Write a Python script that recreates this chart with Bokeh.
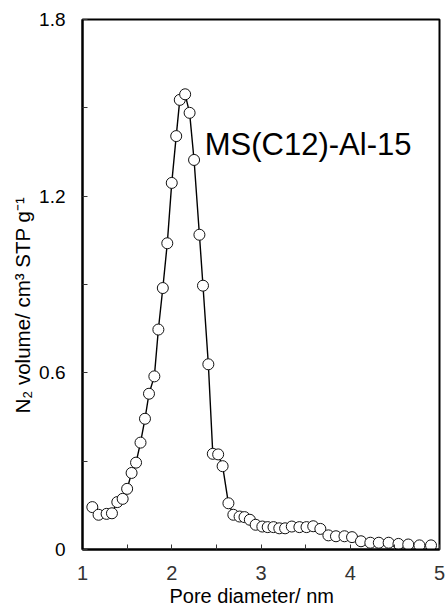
from bokeh.core.properties import value
from bokeh.embed import file_html
from bokeh.models import FixedTicker, Range1d, Title
from bokeh.plotting import figure
from bokeh.resources import INLINE

# Pore size distribution of MS(C12)-Al-15
pore_diameter = [
    1.11, 1.18, 1.27, 1.33, 1.39, 1.45, 1.50, 1.55, 1.60, 1.65,
    1.70, 1.745, 1.805, 1.85, 1.90, 1.95, 2.00, 2.05, 2.09, 2.15,
    2.20, 2.25, 2.31, 2.35, 2.41, 2.46, 2.52, 2.57, 2.635, 2.69,
    2.76, 2.815, 2.875, 2.94, 3.015, 3.075, 3.14, 3.205, 3.27, 3.345,
    3.43, 3.51, 3.585, 3.665, 3.755, 3.84, 3.935, 4.02, 4.12, 4.225,
    4.32, 4.43, 4.54, 4.65, 4.775, 4.905,
]
n2_volume = [
    0.144, 0.118, 0.121, 0.123, 0.161, 0.172, 0.206, 0.260, 0.295, 0.363,
    0.444, 0.529, 0.588, 0.747, 0.888, 1.040, 1.245, 1.404, 1.527, 1.546,
    1.483, 1.323, 1.069, 0.896, 0.629, 0.325, 0.323, 0.283, 0.157, 0.118,
    0.112, 0.110, 0.101, 0.084, 0.078, 0.076, 0.076, 0.072, 0.072, 0.078,
    0.076, 0.076, 0.079, 0.070, 0.048, 0.045, 0.045, 0.042, 0.028, 0.023,
    0.023, 0.023, 0.019, 0.017, 0.014, 0.014,
]

x_ticks = [1, 2, 3, 4, 5]
x_minor_ticks = [1.5, 2.5, 3.5, 4.5]
y_ticks = [0, 0.6, 1.2, 1.8]
y_tick_labels = ["0", "0.6", "1.2", "1.8"]
y_minor_ticks = [0.3, 0.9, 1.5]

sample_name = "MS(C12)-Al-15"
x_title = "Pore diameter/ nm"
y_title = "N\u2082 volume/ cm\u00b3 STP g\u207b\u00b9"

p = figure(
    width=448, height=610,
    x_range=Range1d(1, 5), y_range=Range1d(0, 1.8),
    output_backend="svg", toolbar_location=None,
    min_border_left=82, min_border_right=9,
    min_border_top=19, min_border_bottom=61,
)
p.grid.visible = False
p.outline_line_color = "black"
p.outline_line_width = 2
p.background_fill_color = "white"
p.border_fill_color = "white"

for ax in (p.xaxis[0], p.yaxis[0]):
    ax.axis_line_color = "black"
    ax.axis_line_width = 2
    ax.major_tick_in = 5
    ax.major_tick_out = 0
    ax.minor_tick_in = 5
    ax.minor_tick_out = 0
    ax.major_tick_line_color = "#333333"
    ax.minor_tick_line_color = "#333333"

p.xaxis.ticker = FixedTicker(ticks=x_ticks, minor_ticks=x_minor_ticks)
p.xaxis.major_label_text_font = "Liberation Sans"
p.xaxis.major_label_text_font_size = "20px"
p.xaxis.major_label_text_color = "#333333"
p.xaxis.major_label_standoff = 16

p.yaxis.ticker = FixedTicker(ticks=y_ticks, minor_ticks=y_minor_ticks)
p.yaxis.major_label_overrides = dict(zip(y_ticks, y_tick_labels))
p.yaxis.major_label_text_font = "Liberation Sans"
p.yaxis.major_label_text_font_size = "19px"
p.yaxis.major_label_text_color = "black"
p.yaxis.major_label_standoff = 17

# curve and open markers
p.line(pore_diameter, n2_volume, line_color="black", line_width=1.4)
p.scatter(pore_diameter, n2_volume, size=11, marker="circle",
          fill_color="white", line_color="#111111", line_width=1)

p.text(x=[2.37], y=[1.375], text=[sample_name],
       text_font=value("Liberation Sans"), text_font_size="31px",
       text_color="black", text_baseline="alphabetic", text_align="left")

# axis titles, set in their own side panels next to the axes
p.add_layout(Title(text=x_title, align="left", offset=87, standoff=0,
                   text_font="Liberation Sans", text_font_size="20px",
                   text_font_style="normal", text_color="black"), "below")
p.add_layout(Title(text=y_title, align="left", offset=136, standoff=6,
                   text_font="Liberation Sans", text_font_size="20.5px",
                   text_font_style="normal", text_color="black"), "left")

open("out.html", "w").write(file_html(p, INLINE))
